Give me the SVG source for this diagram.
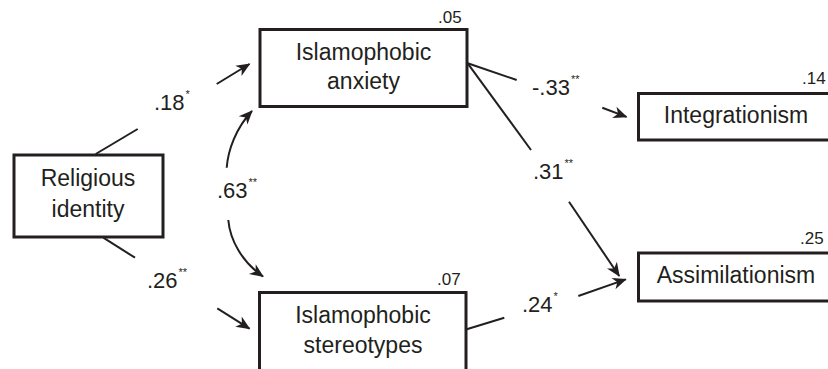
<svg xmlns="http://www.w3.org/2000/svg" width="828" height="369" viewBox="0 0 828 369">
<style>
.box{fill:#fff;stroke:#231f20;stroke-width:3}
.ln{fill:none;stroke:#231f20;stroke-width:2}
.lbl{font-family:"Liberation Sans",Arial,sans-serif;font-size:23px;fill:#231f20;text-anchor:middle}
.num{font-family:"Liberation Sans",Arial,sans-serif;font-size:22px;fill:#231f20}
.r2{font-family:"Liberation Sans",Arial,sans-serif;font-size:17px;fill:#231f20}
.sup{font-size:11px}
</style>
<defs>
<marker id="arr" viewBox="-14 -7 16 14" refX="0" refY="0" markerWidth="16" markerHeight="14" markerUnits="userSpaceOnUse" orient="auto">
<path d="M1,0 L-13,-6 L-9,0 L-13,6 Z" fill="#231f20"/>
</marker>
</defs>
<g id="connectors">
<line class="ln" x1="95.7" y1="154" x2="137.7" y2="129"/>
<line class="ln" x1="216.7" y1="84" x2="249.5" y2="64" marker-end="url(#arr)"/>
<line class="ln" x1="103.3" y1="237.7" x2="135" y2="257.7"/>
<line class="ln" x1="217.3" y1="308.3" x2="249.5" y2="328.6" marker-end="url(#arr)"/>
<line class="ln" x1="467.7" y1="63.3" x2="516.7" y2="80"/>
<line class="ln" x1="602.3" y1="107.7" x2="626.5" y2="116.9" marker-end="url(#arr)"/>
<line class="ln" x1="467.7" y1="63.3" x2="531" y2="150"/>
<line class="ln" x1="569" y1="201.7" x2="619.2" y2="276" marker-end="url(#arr)"/>
<line class="ln" x1="466.7" y1="329.3" x2="504.3" y2="317.7"/>
<line class="ln" x1="578.3" y1="296" x2="625.8" y2="279.4" marker-end="url(#arr)"/>
<path class="ln" d="M226.7,167.7 C228,150 236,128 252,111" marker-end="url(#arr)"/>
<path class="ln" d="M228.3,220 C230,240 242,262 263,276.5" marker-end="url(#arr)"/>
</g>
<g id="religious-identity">
<rect class="box" x="14" y="155" width="149" height="82"/>
<text class="lbl" x="88" y="186">Religious</text>
<text class="lbl" x="88" y="217">identity</text>
</g>
<g id="islamophobic-anxiety">
<rect class="box" x="260" y="29.5" width="207" height="77"/>
<text class="lbl" x="363.5" y="60">Islamophobic</text>
<text class="lbl" x="363.5" y="89">anxiety</text>
<text class="r2" x="438" y="23">.05</text>
</g>
<g id="islamophobic-stereotypes">
<rect class="box" x="259.5" y="292.5" width="206.5" height="90"/>
<text class="lbl" x="363" y="323">Islamophobic</text>
<text class="lbl" x="363" y="352.5">stereotypes</text>
<text class="r2" x="437" y="285">.07</text>
</g>
<g id="integrationism">
<rect class="box" x="638.5" y="93.5" width="200" height="46.5"/>
<text class="lbl" x="736" y="123">Integrationism</text>
<text class="r2" x="802" y="84">.14</text>
</g>
<g id="assimilationism">
<rect class="box" x="638.5" y="253" width="200" height="48"/>
<text class="lbl" x="736" y="283">Assimilationism</text>
<text class="r2" x="800" y="244">.25</text>
</g>
<g id="path-labels">
<text class="num" x="154" y="110">.18<tspan class="sup" dx="1" dy="-12">*</tspan></text>
<text class="num" x="147" y="288">.26<tspan class="sup" dx="1" dy="-12">**</tspan></text>
<text class="num" x="217" y="198">.63<tspan class="sup" dx="1" dy="-12">**</tspan></text>
<text class="num" x="532" y="95">-.33<tspan class="sup" dx="1" dy="-12">**</tspan></text>
<text class="num" x="533" y="179">.31<tspan class="sup" dx="1" dy="-12">**</tspan></text>
<text class="num" x="522" y="312">.24<tspan class="sup" dx="1" dy="-12">*</tspan></text>
</g>
</svg>
